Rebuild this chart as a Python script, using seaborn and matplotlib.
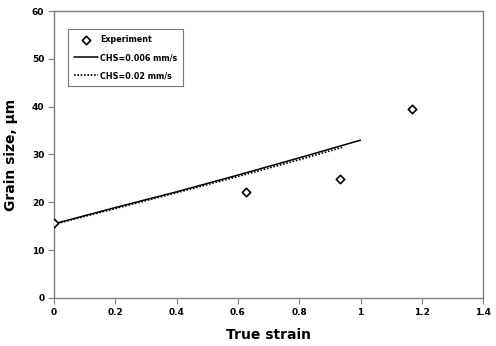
import numpy as np
import pandas as pd
import matplotlib
matplotlib.use("Agg")
import matplotlib.pyplot as plt
import seaborn as sns

# Measured grain sizes
exp_strain = [0.0, 0.627, 0.933, 1.167]
exp_grain = [15.6, 22.2, 24.9, 39.6]

# Model predictions for two cross-head speeds
slow_strain = [0.0, 0.2, 0.4, 0.6, 0.8, 1.0]
slow_grain = [15.5, 18.9, 22.2, 25.7, 29.3, 33.0]
fast_strain = [0.0, 0.2, 0.4, 0.6, 0.8, 0.94]
fast_grain = [15.4, 18.7, 22.0, 25.4, 28.9, 31.5]

x_ticks = [0, 0.2, 0.4, 0.6, 0.8, 1, 1.2, 1.4]
x_tick_labels = ["0", "0.2", "0.4", "0.6", "0.8", "1", "1.2", "1.4"]
y_ticks = [0, 10, 20, 30, 40, 50, 60]

sns.set_style("ticks")
plt.rcParams["font.family"] = ["DejaVu Sans"]
plt.rcParams["text.color"] = "black"
plt.rcParams["axes.labelcolor"] = "black"
plt.rcParams["xtick.labelcolor"] = "black"
plt.rcParams["ytick.labelcolor"] = "black"

fig = plt.figure(figsize=(4.96, 3.46), dpi=100)
ax = fig.add_axes([0.109, 0.139, 0.865, 0.829])

slow = pd.DataFrame({"strain": slow_strain, "grain": slow_grain})
fast = pd.DataFrame({"strain": fast_strain, "grain": fast_grain})
exp = pd.DataFrame({"strain": exp_strain, "grain": exp_grain})

sns.lineplot(data=fast, x="strain", y="grain", ax=ax, color="black",
             linewidth=1.2, linestyle=(0, (1, 1)), label="CHS=0.02 mm/s")
sns.lineplot(data=slow, x="strain", y="grain", ax=ax, color="black",
             linewidth=1.1, label="CHS=0.006 mm/s")
sns.scatterplot(data=exp, x="strain", y="grain", ax=ax, marker="D", s=18,
                facecolor="white", edgecolor="black", linewidth=1.2,
                label="Experiment", zorder=5)

ax.set_xlim(0, 1.4)
ax.set_ylim(0, 60)
ax.set_xticks(x_ticks)
ax.set_xticklabels(x_tick_labels)
ax.set_yticks(y_ticks)
for lab in ax.get_xticklabels() + ax.get_yticklabels():
    lab.set_fontweight("bold")
    lab.set_fontsize(6.5)
ax.tick_params(direction="out", length=4, width=0.8, color="#7f7f7f", pad=3)
for sp in ax.spines.values():
    sp.set_color("#7f7f7f")
    sp.set_linewidth(1.0)

ax.set_xlabel("True strain", fontsize=10, fontweight="bold", labelpad=8)
ax.set_ylabel("Grain size, μm", fontsize=10, fontweight="bold", labelpad=10)

handles, labels = ax.get_legend_handles_labels()
order = [labels.index(l) for l in ["Experiment", "CHS=0.006 mm/s", "CHS=0.02 mm/s"]]
leg = ax.legend([handles[i] for i in order], [labels[i] for i in order],
                loc="upper left", bbox_to_anchor=(0.022, 0.952), frameon=True,
                fancybox=False, edgecolor="#555555",
                prop={"weight": "bold", "size": 5.8}, handlelength=3.0,
                labelspacing=1.1, borderpad=0.8, handletextpad=0.2)
leg.get_frame().set_linewidth(0.8)

fig.savefig("out.png", dpi=100)
